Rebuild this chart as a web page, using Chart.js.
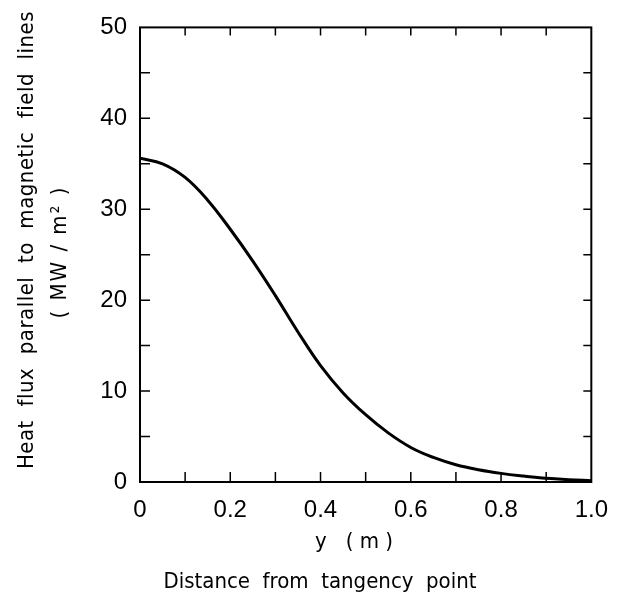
<!DOCTYPE html>
<html>
<head>
<meta charset="utf-8">
<script src="https://cdn.jsdelivr.net/npm/chart.js@4"></script>
<style>
  html, body { margin: 0; padding: 0; background: #fff; }
  #wrap { width: 622px; height: 604px; }
</style>
</head>
<body>
<div id="wrap"><canvas id="chart" width="622" height="604"></canvas></div>
<script>
// distance from tangency point (m) and parallel heat flux (MW/m2)
const distance = [0, 0.05, 0.1, 0.15, 0.2, 0.25, 0.3, 0.35, 0.4, 0.45, 0.5,
                  0.55, 0.6, 0.65, 0.7, 0.75, 0.8, 0.85, 0.9, 0.95, 1.0];
const heatFlux = [35.6, 35.0, 33.5, 31.0, 27.8, 24.3, 20.5, 16.5, 12.8, 9.8, 7.4,
                  5.4, 3.8, 2.7, 1.9, 1.35, 0.95, 0.65, 0.4, 0.25, 0.15];

const xLabels = [0, 0.2, 0.4, 0.6, 0.8, 1.0];
const yLabels = [0, 10, 20, 30, 40, 50];
const xMarks = [0.1, 0.2, 0.3, 0.4, 0.5, 0.6, 0.7, 0.8, 0.9];
const yMarks = [5, 10, 15, 20, 25, 30, 35, 40, 45];

const yTitle = "Heat  flux  parallel  to  magnetic  field  lines";
const yUnit = "( MW / m² )";
const xTitle = "y   ( m )";
const xTitle2 = "Distance  from  tangency  point";

const titleFont = '22px "DejaVu Sans Condensed", "Liberation Sans Narrow", sans-serif';

// frame, inward tick marks and axis titles
const framePlugin = {
  id: "frame",
  afterDraw(chart) {
    const { ctx, chartArea: a, scales } = chart;
    const xs = scales.x, ys = scales.y;
    ctx.save();
    ctx.strokeStyle = "#000";
    ctx.lineWidth = 2;
    ctx.strokeRect(a.left, a.top, a.right - a.left, a.bottom - a.top);

    ctx.lineWidth = 1.5;
    ctx.beginPath();
    yMarks.forEach(v => {
      const py = ys.getPixelForValue(v);
      ctx.moveTo(a.left, py); ctx.lineTo(a.left + 10, py);
      ctx.moveTo(a.right, py); ctx.lineTo(a.right - 8, py);
    });
    xMarks.forEach(v => {
      const px = xs.getPixelForValue(v);
      ctx.moveTo(px, a.bottom); ctx.lineTo(px, a.bottom - 10);
      ctx.moveTo(px, a.top); ctx.lineTo(px, a.top + 8);
    });
    ctx.stroke();

    ctx.fillStyle = "#000";
    ctx.font = titleFont;
    ctx.textAlign = "center";
    ctx.textBaseline = "middle";
    ctx.fillText(xTitle, 354, 542);
    ctx.fillText(xTitle2, 320, 582);

    ctx.save();
    ctx.translate(27, 240);
    ctx.rotate(-Math.PI / 2);
    ctx.letterSpacing = "0.5px";
    ctx.fillText(yTitle, 0, 0);
    ctx.restore();

    ctx.save();
    ctx.translate(60, 252);
    ctx.rotate(-Math.PI / 2);
    ctx.letterSpacing = "2px";
    ctx.fillText(yUnit, 0, 0);
    ctx.restore();

    ctx.restore();
  }
};

const ctx = document.getElementById("chart").getContext("2d");
const chart = new Chart(ctx, {
  type: "line",
  data: {
    datasets: [{
      data: distance.map((d, i) => ({ x: d, y: heatFlux[i] })),
      borderColor: "#000",
      borderWidth: 3,
      pointRadius: 0,
      tension: 0.4,
      fill: false
    }]
  },
  options: {
    responsive: false,
    animation: false,
    layout: { padding: { top: 26, right: 27, left: 0, bottom: 0 } },
    plugins: { legend: { display: false }, tooltip: { enabled: false } },
    scales: {
      x: {
        type: "linear",
        min: 0, max: 1,
        afterBuildTicks: s => { s.ticks = xLabels.map(v => ({ value: v })); },
        afterFit: s => { s.height = 122; },
        grid: { display: false, drawTicks: false },
        border: { display: false },
        ticks: {
          padding: 14,
          color: "#000",
          font: { family: "Liberation Sans", size: 24 },
          maxRotation: 0,
          callback: v => v === 0 ? "0" : v.toFixed(1)
        }
      },
      y: {
        min: 0, max: 50,
        afterBuildTicks: s => { s.ticks = yLabels.map(v => ({ value: v })); },
        afterFit: s => { s.width = 140; },
        grid: { display: false, drawTicks: false },
        border: { display: false },
        ticks: {
          padding: 13,
          color: "#000",
          font: { family: "Liberation Sans", size: 24 }
        }
      }
    }
  },
  plugins: [framePlugin]
});
</script>
</body>
</html>
